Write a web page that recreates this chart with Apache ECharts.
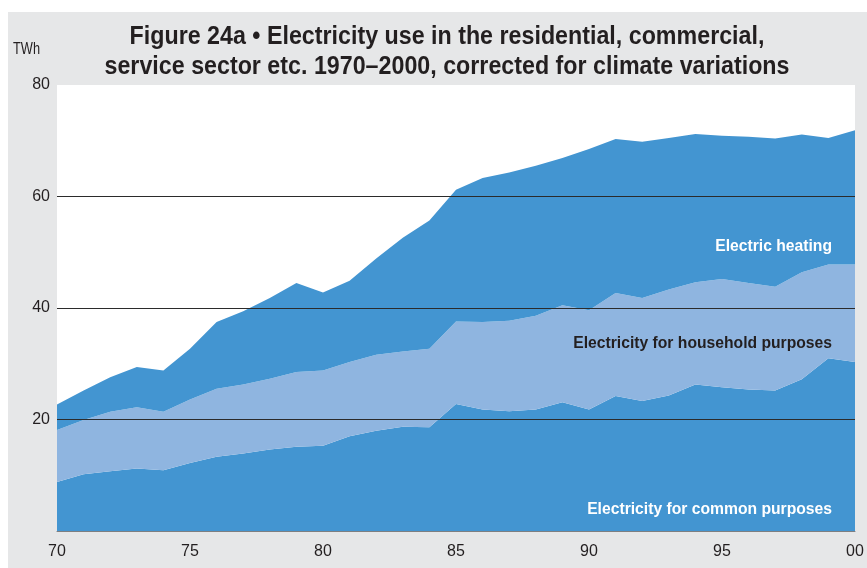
<!DOCTYPE html>
<html>
<head>
<meta charset="utf-8">
<script src="https://cdn.jsdelivr.net/npm/echarts@6/dist/echarts.min.js"></script>
<style>
  html, body { margin: 0; padding: 0; background: #fff; }
  #chart { width: 867px; height: 568px; }
</style>
</head>
<body>
<div id="chart"></div>
<script>
// years 1970-2000
var years = ['1970','1971','1972','1973','1974','1975','1976','1977','1978','1979',
             '1980','1981','1982','1983','1984','1985','1986','1987','1988','1989',
             '1990','1991','1992','1993','1994','1995','1996','1997','1998','1999','2000'];

// TWh (stacked: common, household, heating)
var commonUse = [8.8,10.2,10.7,11.2,10.9,12.2,13.3,13.9,14.6,15.1,15.3,17.0,18.0,18.7,18.6,
                 22.8,21.8,21.5,21.8,23.1,21.8,24.2,23.3,24.3,26.3,25.8,25.4,25.2,27.2,31.0,30.3];
var householdUse = [9.3,9.7,10.7,11.0,10.5,11.4,12.2,12.4,12.7,13.4,13.5,13.3,13.6,13.5,14.1,
                    14.8,15.7,16.2,16.8,17.4,17.8,18.5,18.5,19.0,18.3,19.4,19.1,18.6,19.2,16.8,17.5];
var heatingUse = [4.6,5.3,6.2,7.2,7.4,9.1,12.0,13.1,14.5,16.0,14.0,14.6,17.3,20.4,23.0,
                  23.6,25.8,26.6,26.9,26.4,28.9,27.6,28.0,27.2,26.6,25.7,26.2,26.6,24.7,22.7,24.1];

var yTicks = [0, 20, 40, 60, 80];

var font = '"Liberation Sans", Arial, sans-serif';
var darkBlue = '#4395d1';
var lightBlue = '#8fb5e0';

var chart = echarts.init(document.getElementById('chart'));

function areaSeries(name, data, color) {
  return {
    name: name,
    type: 'line',
    stack: 'total',
    data: data,
    symbol: 'none',
    lineStyle: { width: 0 },
    areaStyle: { color: color, opacity: 1 },
    itemStyle: { color: color },
    emphasis: { disabled: true },
    silent: true
  };
}

// condensed look: no narrow font installed, so squeeze the text a bit
function titleLine(text, y) {
  return {
    type: 'text', x: 447, y: y, scaleX: 0.93, silent: true,
    style: {
      text: text, fill: '#231f20', font: 'bold 25px ' + font,
      textAlign: 'center', textVerticalAlign: 'middle'
    }
  };
}

function seriesLabel(text, top, color) {
  return {
    type: 'text', x: 832, y: top, scaleX: 0.98, z: 10, silent: true,
    style: { text: text, fill: color, font: 'bold 16px ' + font, textAlign: 'right', textVerticalAlign: 'middle' }
  };
}

chart.setOption({
  animation: false,
  backgroundColor: '#ffffff',
  graphic: [
    {
      type: 'rect', z: -10, silent: true,
      shape: { x: 8, y: 12, width: 859, height: 556 },
      style: { fill: '#e6e7e8' }
    },
    titleLine('Figure 24a • Electricity use in the residential, commercial,', 37),
    titleLine('service sector etc. 1970–2000, corrected for climate variations', 67),
    {
      type: 'text', x: 13, y: 50, scaleX: 0.8, silent: true,
      style: { text: 'TWh', fill: '#231f20', font: '16px ' + font, textVerticalAlign: 'middle' }
    },
    seriesLabel('Electric heating', 247, '#ffffff'),
    seriesLabel('Electricity for household purposes', 344, '#231f20'),
    seriesLabel('Electricity for common purposes', 510, '#ffffff')
  ],
  grid: {
    left: 57,
    right: 12,
    top: 85,
    bottom: 37,
    show: true,
    backgroundColor: '#ffffff',
    borderWidth: 0
  },
  xAxis: {
    type: 'category',
    data: years,
    boundaryGap: false,
    axisTick: { show: false },
    axisLine: { show: true, lineStyle: { color: '#7d7f82', width: 1 } },
    axisLabel: {
      interval: 4,
      margin: 13,
      fontFamily: font,
      fontSize: 16,
      color: '#231f20',
      formatter: function (v) { return v.slice(2); }
    },
    splitLine: { show: false }
  },
  yAxis: {
    type: 'value',
    min: yTicks[0],
    max: yTicks[yTicks.length - 1],
    interval: 20,
    axisLine: { show: false },
    axisTick: { show: false },
    axisLabel: {
      margin: 7,
      fontFamily: font,
      fontSize: 16,
      color: '#231f20',
      formatter: function (v) { return v === 0 ? '' : String(v); }
    },
    splitLine: {
      show: true,
      lineStyle: { color: ['transparent', '#2b2b2b', '#2b2b2b', '#2b2b2b', 'transparent'], width: 1 }
    },
    z: 5
  },
  series: [
    areaSeries('Electricity for common purposes', commonUse, darkBlue),
    areaSeries('Electricity for household purposes', householdUse, lightBlue),
    areaSeries('Electric heating', heatingUse, darkBlue)
  ]
});
</script>
</body>
</html>
